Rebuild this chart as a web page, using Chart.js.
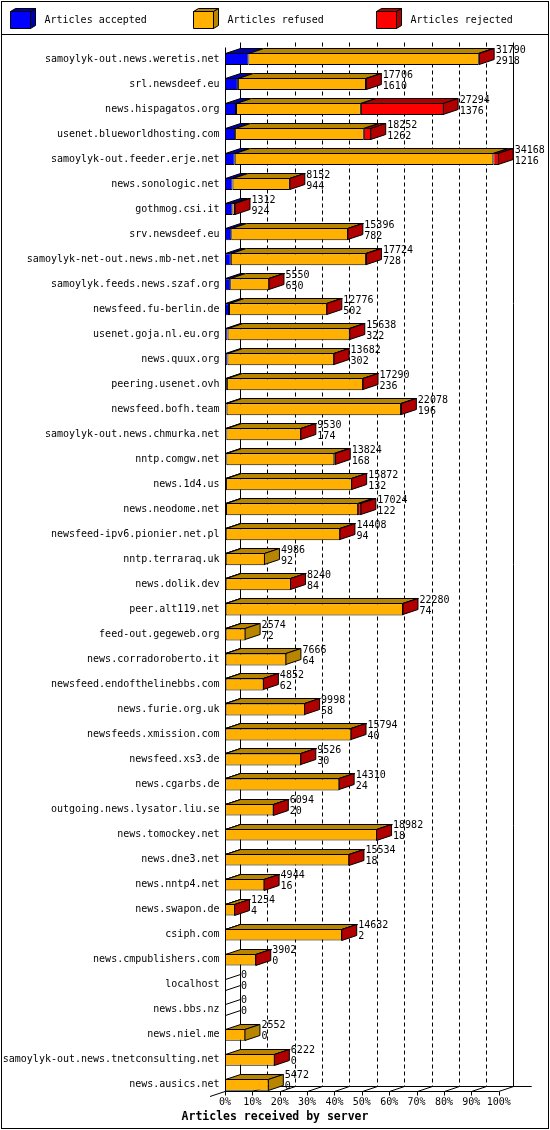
<!DOCTYPE html>
<html><head><meta charset="utf-8">
<script src="https://cdn.jsdelivr.net/npm/chart.js@4/dist/chart.umd.min.js"></script>
<style>html,body{margin:0;padding:0;background:#fff}canvas{display:block}</style>
</head><body>
<canvas id="c" width="550" height="1130"></canvas>
<script>
const categories = [
  'samoylyk-out.news.weretis.net','srl.newsdeef.eu','news.hispagatos.org','usenet.blueworldhosting.com',
  'samoylyk-out.feeder.erje.net','news.sonologic.net','gothmog.csi.it','srv.newsdeef.eu',
  'samoylyk-net-out.news.mb-net.net','samoylyk.feeds.news.szaf.org','newsfeed.fu-berlin.de','usenet.goja.nl.eu.org',
  'news.quux.org','peering.usenet.ovh','newsfeed.bofh.team','samoylyk-out.news.chmurka.net',
  'nntp.comgw.net','news.1d4.us','news.neodome.net','newsfeed-ipv6.pionier.net.pl',
  'nntp.terraraq.uk','news.dolik.dev','peer.alt119.net','feed-out.gegeweb.org',
  'news.corradoroberto.it','newsfeed.endofthelinebbs.com','news.furie.org.uk','newsfeeds.xmission.com',
  'newsfeed.xs3.de','news.cgarbs.de','outgoing.news.lysator.liu.se','news.tomockey.net',
  'news.dne3.net','news.nntp4.net','news.swapon.de','csiph.com',
  'news.cmpublishers.com','localhost','news.bbs.nz','news.niel.me',
  'samoylyk-out.news.tnetconsulting.net','news.ausics.net'
];
const accepted = [2918,1610,1376,1262,1216,944,924,782,728,650,502,322,302,236,196,174,168,132,122,94,92,84,74,72,64,62,58,40,30,24,20,18,18,16,4,2,0,0,0,0,0,0];
const refused  = [28752,15996,15588,16070,32282,7148,328,14574,16866,4870,12214,15236,13320,17004,21782,9326,13476,15700,16492,14284,4894,8136,22146,2502,7602,4770,9920,15734,9476,14256,6054,18944,15496,4908,1240,14610,3882,0,0,2552,6202,5472];
const rejected = [120,100,10330,920,670,60,60,40,130,30,60,80,60,50,100,30,180,40,410,30,0,20,60,0,0,20,20,20,20,30,20,20,20,20,10,20,20,0,0,0,20,0];
const seriesLabels = ['Articles accepted','Articles refused','Articles rejected'];
const tickLabels = ['0%','10%','20%','30%','40%','50%','60%','70%','80%','90%','100%'];
const axisTitle = 'Articles received by server';

const FRONT = ['#0000ff','#ffb000','#ff0000'];
const SHADE = ['#0000b0','#b88500','#b00000'];
const DX = 15, DY = 5;
const FONT = 'DejaVu Sans Mono';

const series = [accepted, refused, rejected];
const totals = categories.map((_, i) => accepted[i] + refused[i] + rejected[i]);
const maxTotal = Math.max(...totals);

function poly(ctx, pts, fill) {
  ctx.beginPath();
  ctx.moveTo(pts[0][0], pts[0][1]);
  for (let k = 1; k < pts.length; k++) ctx.lineTo(pts[k][0], pts[k][1]);
  ctx.closePath();
  if (fill) { ctx.fillStyle = fill; ctx.fill(); }
  ctx.strokeStyle = '#000'; ctx.lineWidth = 1; ctx.stroke();
}
function line(ctx, x1, y1, x2, y2) {
  ctx.beginPath(); ctx.moveTo(x1, y1); ctx.lineTo(x2, y2); ctx.stroke();
}

const deco = {
  id: 'deco',
  beforeDraw(chart) {
    const ctx = chart.ctx;
    ctx.save();
    ctx.fillStyle = '#fff';
    ctx.fillRect(0, 0, chart.width, chart.height);
    ctx.strokeStyle = '#000'; ctx.lineWidth = 1;
    ctx.strokeRect(1.5, 1.5, chart.width - 3, chart.height - 3);
    line(ctx, 1, 34.5, chart.width - 1, 34.5);
    // legend
    const lx = [10.5, 193.5, 376.5];
    ctx.font = '10px "' + FONT + '"';
    ctx.textBaseline = 'middle'; ctx.textAlign = 'left';
    seriesLabels.forEach((lab, k) => {
      const x = lx[k], t = 11.5, b = 28.5, r = x + 20;
      poly(ctx, [[x, t], [r, t], [r, b], [x, b]], FRONT[k]);
      poly(ctx, [[x, t], [r, t], [r + 5, t - 3], [x + 5, t - 3]], SHADE[k]);
      poly(ctx, [[r, t], [r + 5, t - 3], [r + 5, b - 3], [r, b]], SHADE[k]);
      ctx.fillStyle = '#000';
      ctx.fillText(lab, x + 34, 20.5);
    });
    ctx.restore();
  },
  beforeDatasetsDraw(chart) {
    const ctx = chart.ctx, xs = chart.scales.x, area = chart.chartArea;
    const meta = chart.getDatasetMeta(0);
    const last = meta.data[meta.data.length - 1];
    const fy = Math.round(last.y + last.height / 2) + 0.5;
    const top = Math.round(area.top) + 0.5;
    const x0 = xs.getPixelForValue(0), x1 = xs.getPixelForValue(maxTotal);
    ctx.save();
    ctx.strokeStyle = '#000'; ctx.lineWidth = 1;
    // left walls
    line(ctx, Math.round(x0) + 0.5, top, Math.round(x0) + 0.5, fy);
    line(ctx, Math.round(x0 + DX) + 0.5, top - DY, Math.round(x0 + DX) + 0.5, fy - DY);
    // right wall
    line(ctx, Math.round(x1 + DX) - 0.5, top - DY, Math.round(x1 + DX) - 0.5, fy - DY);
    // dashed grid on back wall
    ctx.setLineDash([4, 3]);
    for (let i = 1; i < tickLabels.length - 1; i++) {
      const gx = Math.round(xs.getPixelForValue(maxTotal * i / (tickLabels.length - 1)) + DX) + 0.5;
      line(ctx, gx, top - DY, gx, fy - DY);
    }
    ctx.setLineDash([]);
    // floor
    line(ctx, x0, fy, x1, fy);
    line(ctx, x0 + DX, fy - DY, x1 + DX + 18, fy - DY);
    line(ctx, x1, fy, x1 + DX, fy - DY);
    line(ctx, x0 - DX, fy + DY, x0, fy);
    for (let i = 0; i < tickLabels.length; i++) {
      const tx = Math.round(xs.getPixelForValue(maxTotal * i / (tickLabels.length - 1))) + 0.5;
      line(ctx, tx, fy, tx, fy + 4);
      if (i > 0 && i < tickLabels.length - 1) line(ctx, tx, fy, tx + DX, fy - DY);
    }
    ctx.restore();
  },
  afterDatasetsDraw(chart) {
    const ctx = chart.ctx;
    const metas = series.map((_, k) => chart.getDatasetMeta(k));
    ctx.save();
    ctx.strokeStyle = '#000'; ctx.lineWidth = 1;
    categories.forEach((cat, i) => {
      let lastK = -1, end = null, c = 0, h = 0, baseX = null;
      series.forEach((s, k) => {
        const el = metas[k].data[i];
        const p = el.getProps(['x', 'y', 'base', 'height'], true);
        c = p.y; h = p.height;
        if (baseX === null) baseX = p.base;
        if (s[i] > 0) {
          lastK = k;
          end = p.x;
          const T = Math.round(p.y - p.height / 2) + 0.5;
          const L = p.base + 0.5, R = Math.max(p.x - 0.5, L);
          poly(ctx, [[L, T], [R, T], [R + DX, T - DY], [L + DX, T - DY]], SHADE[k]);
        }
      });
      const T = Math.round(c - h / 2) + 0.5, B = Math.round(c + h / 2) - 0.5;
      let R;
      if (lastK < 0) { end = baseX; R = Math.round(baseX) + 0.5; }
      else R = end - 0.5;
      poly(ctx, [[R, T], [R + DX, T - DY], [R + DX, B - DY], [R, B]], lastK < 0 ? null : SHADE[lastK]);
      ctx.fillStyle = '#000';
      ctx.font = '10px "' + FONT + '"';
      ctx.textAlign = 'left'; ctx.textBaseline = 'middle';
      const tx = end + DX + 1;
      ctx.fillText(String(totals[i]), tx, c - 9);
      ctx.fillText(String(accepted[i]), tx, c + 2);
    });
    ctx.restore();
  }
};

new Chart(document.getElementById('c').getContext('2d'), {
  type: 'bar',
  data: {
    labels: categories,
    datasets: seriesLabels.map((lab, k) => ({
      label: lab, data: series[k], backgroundColor: FRONT[k], borderColor: '#000',
      borderWidth: 1, borderSkipped: false, xAxisID: 'x', yAxisID: 'y',
      barPercentage: 0.48, categoryPercentage: 1
    }))
  },
  options: {
    indexAxis: 'y', responsive: false, animation: false, devicePixelRatio: 1,
    layout: { padding: { top: 46.5, left: 0, right: 0, bottom: 0 } },
    plugins: {
      legend: { display: false }, tooltip: { enabled: false },
      title: { display: true, position: 'bottom', text: axisTitle, color: '#000',
        font: { family: FONT, size: 11.5, weight: 'bold' }, padding: { top: 0, bottom: 6 } }
    },
    scales: {
      y: { type: 'category', stacked: true, position: 'left',
        grid: { display: false, drawTicks: false }, border: { display: false },
        ticks: { color: '#000', font: { family: FONT, size: 10 }, padding: 5.5, autoSkip: false },
        afterFit(s) { s.width = 225; } },
      yR: { type: 'category', position: 'right', display: true,
        grid: { display: false, drawTicks: false }, border: { display: false },
        ticks: { display: false }, afterFit(s) { s.width = 51.3; } },
      x: { type: 'linear', stacked: true, min: 0, max: maxTotal,
        grid: { display: false, drawTicks: false }, border: { display: false },
        ticks: { color: '#000', font: { family: FONT, size: 10 }, padding: -1, maxRotation: 0, autoSkip: false,
          callback: (v, i) => tickLabels[i] },
        afterBuildTicks(s) { s.ticks = tickLabels.map((_, i) => ({ value: maxTotal * i / (tickLabels.length - 1) })); },
        afterFit(s) { s.height = 13; } }
    }
  },
  plugins: [deco]
});
</script>
</body></html>
